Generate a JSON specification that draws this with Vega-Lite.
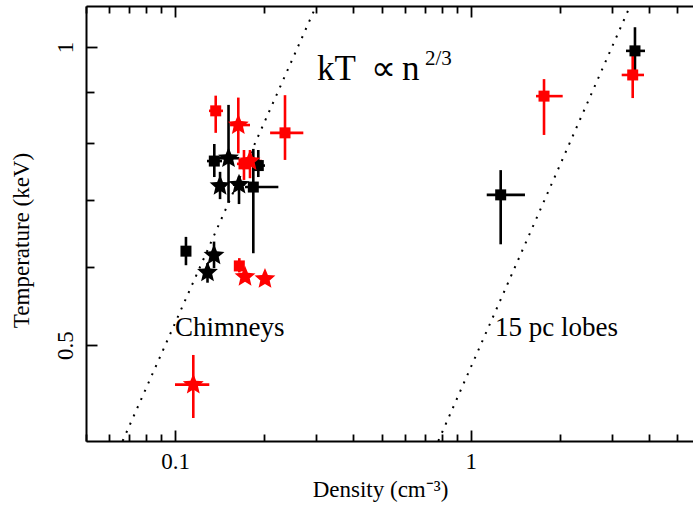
{
  "$schema": "https://vega.github.io/schema/vega-lite/v6.json",
  "width": 607,
  "height": 435,
  "autosize": {"type": "none"},
  "padding": {"left": 86, "top": 6, "right": 0, "bottom": 65},
  "config": {
    "view": {"stroke": null},
    "font": "Liberation Serif",
    "axis": {
      "domainColor": "black", "domainWidth": 2, "tickColor": "black", "tickWidth": 1.8,
      "labelColor": "black", "titleColor": "black", "labelFont": "Liberation Serif", "titleFont": "Liberation Serif",
      "labelFontSize": 23, "titleFontSize": 23, "titleFontWeight": "normal", "grid": false,
      "labelFlush": false, "labelOverlap": false
    }
  },
  "datasets": {
    "pts": [
      {"grp": "black", "shape": "square", "n": 0.1358, "nlo": 0.1283, "nhi": 0.1442, "T": 0.767, "Tlo": 0.739, "Thi": 0.798},
      {"grp": "black", "shape": "square", "n": 0.1913, "nlo": 0.182, "nhi": 0.2015, "T": 0.759, "Tlo": 0.739, "Thi": 0.787},
      {"grp": "black", "shape": "square", "n": 0.184, "nlo": 0.1725, "nhi": 0.2236, "T": 0.722, "Tlo": 0.619, "Thi": 0.789},
      {"grp": "black", "shape": "square", "n": 0.1089, "nlo": 0.106, "nhi": 0.112, "T": 0.622, "Tlo": 0.602, "Thi": 0.643},
      {"grp": "black", "shape": "square", "n": 1.263, "nlo": 1.133, "nhi": 1.526, "T": 0.709, "Tlo": 0.632, "Thi": 0.751},
      {"grp": "black", "shape": "square", "n": 3.594, "nlo": 3.351, "nhi": 3.885, "T": 0.991, "Tlo": 0.943, "Thi": 1.047},
      {"grp": "black", "shape": "star", "n": 0.1517, "nlo": 0.14, "nhi": 0.165, "T": 0.772, "Tlo": 0.696, "Thi": 0.874},
      {"grp": "black", "shape": "star", "n": 0.142, "nlo": 0.138, "nhi": 0.146, "T": 0.724, "Tlo": 0.702, "Thi": 0.748},
      {"grp": "black", "shape": "star", "n": 0.1646, "nlo": 0.157, "nhi": 0.172, "T": 0.726, "Tlo": 0.694, "Thi": 0.74},
      {"grp": "black", "shape": "star", "n": 0.1355, "nlo": 0.132, "nhi": 0.139, "T": 0.616, "Tlo": 0.598, "Thi": 0.636},
      {"grp": "black", "shape": "star", "n": 0.1288, "nlo": 0.125, "nhi": 0.132, "T": 0.592, "Tlo": 0.578, "Thi": 0.605},
      {"grp": "red", "shape": "square", "n": 0.1373, "nlo": 0.1303, "nhi": 0.1453, "T": 0.862, "Tlo": 0.819, "Thi": 0.893},
      {"grp": "red", "shape": "square", "n": 0.2355, "nlo": 0.2097, "nhi": 0.2716, "T": 0.819, "Tlo": 0.769, "Thi": 0.894},
      {"grp": "red", "shape": "square", "n": 0.1711, "nlo": 0.162, "nhi": 0.182, "T": 0.762, "Tlo": 0.734, "Thi": 0.787},
      {"grp": "red", "shape": "square", "n": 0.165, "nlo": 0.162, "nhi": 0.168, "T": 0.601, "Tlo": 0.592, "Thi": 0.612},
      {"grp": "red", "shape": "square", "n": 1.77, "nlo": 1.663, "nhi": 2.047, "T": 0.892, "Tlo": 0.815, "Thi": 0.928},
      {"grp": "red", "shape": "square", "n": 3.531, "nlo": 3.241, "nhi": 3.856, "T": 0.937, "Tlo": 0.888, "Thi": 0.993},
      {"grp": "red", "shape": "star", "n": 0.1637, "nlo": 0.1535, "nhi": 0.1793, "T": 0.834, "Tlo": 0.781, "Thi": 0.889},
      {"grp": "red", "shape": "star", "n": 0.1793, "nlo": 0.171, "nhi": 0.197, "T": 0.767, "Tlo": 0.737, "Thi": 0.787},
      {"grp": "red", "shape": "star", "n": 0.1725, "nlo": 0.17, "nhi": 0.175, "T": 0.586, "Tlo": 0.58, "Thi": 0.592},
      {"grp": "red", "shape": "star", "n": 0.2015, "nlo": 0.2, "nhi": 0.203, "T": 0.583, "Tlo": 0.58, "Thi": 0.587},
      {"grp": "red", "shape": "star", "n": 0.1153, "nlo": 0.1, "nhi": 0.1306, "T": 0.456, "Tlo": 0.422, "Thi": 0.4886}
    ],
    "lines": [
      {"line": "a", "n": 0.0665, "T": 0.4},
      {"line": "a", "n": 0.3, "T": 1.1},
      {"line": "b", "n": 0.777, "T": 0.4},
      {"line": "b", "n": 3.46, "T": 1.1}
    ]
  },
  "layer": [
    {
      "data": {"name": "lines"},
      "mark": {"type": "line", "color": "black", "strokeWidth": 2, "strokeDash": [2, 7]},
      "encoding": {
        "x": {"field": "n", "type": "quantitative", "scale": {"type": "log", "domain": [0.05, 5.647], "nice": false},
          "axis": {"orient": "bottom", "values": [0.05, 0.06, 0.07, 0.08, 0.09, 0.1, 0.2, 0.3, 0.4, 0.5, 0.6, 0.7, 0.8, 0.9, 1, 2, 3, 4, 5],
            "labelExpr": "datum.value == 1 ? '1' : (datum.value == 0.1 ? '0.1' : '')",
            "tickSize": {"condition": {"test": "datum.value == 0.1 || datum.value == 1", "value": -11}, "value": -7},
            "labelBaseline": "alphabetic", "labelAlign": "center", "labelPadding": 38,
            "title": "Density (cm⁻³)", "titleColor": "#000000", "titleX": 294, "titleY": 55, "titleBaseline": "alphabetic", "titleAlign": "center"}},
        "y": {"field": "T", "type": "quantitative", "scale": {"type": "log", "domain": [0.4, 1.1], "nice": false},
          "axis": {"orient": "left", "values": [0.5, 0.6, 0.7, 0.8, 0.9, 1],
            "labelExpr": "datum.value == 1 ? '1' : (datum.value == 0.5 ? '0.5' : '')",
            "tickSize": {"condition": {"test": "datum.value == 0.5 || datum.value == 1", "value": -11}, "value": -8},
            "labelAngle": 270, "labelAlign": "center", "labelBaseline": "alphabetic", "labelPadding": 25, "labelColor": "#000000",
            "title": "Temperature (keV)", "titleColor": "#000000", "titleAngle": 270, "titleX": -58, "titleY": 234, "titleBaseline": "alphabetic", "titleAlign": "center"}},
        "detail": {"field": "line"}
      }
    },
    {
      "data": {"name": "pts"},
      "mark": {"type": "rule", "strokeWidth": 2.6},
      "encoding": {
        "x": {"field": "nlo", "type": "quantitative", "scale": {"type": "log", "domain": [0.05, 5.647], "nice": false},
          "axis": {"orient": "top", "values": [0.05, 0.06, 0.07, 0.08, 0.09, 0.1, 0.2, 0.3, 0.4, 0.5, 0.6, 0.7, 0.8, 0.9, 1, 2, 3, 4, 5],
            "labels": false, "title": null,
            "tickSize": {"condition": {"test": "datum.value == 0.1 || datum.value == 1", "value": -11}, "value": -7}}},
        "x2": {"field": "nhi"},
        "y": {"field": "T", "type": "quantitative", "scale": {"type": "log", "domain": [0.4, 1.1], "nice": false}},
        "color": {"field": "grp", "type": "nominal", "scale": {"domain": ["black", "red"], "range": ["#000000", "#ff0000"]}, "legend": null}
      }
    },
    {
      "data": {"name": "pts"},
      "mark": {"type": "rule", "strokeWidth": 2.6},
      "encoding": {
        "x": {"field": "n", "type": "quantitative", "scale": {"type": "log", "domain": [0.05, 5.647], "nice": false}, "axis": null},
        "y": {"field": "Tlo", "type": "quantitative", "scale": {"type": "log", "domain": [0.4, 1.1], "nice": false}},
        "y2": {"field": "Thi"},
        "color": {"field": "grp", "type": "nominal", "scale": {"domain": ["black", "red"], "range": ["#000000", "#ff0000"]}, "legend": null}
      }
    },
    {
      "data": {"name": "pts"},
      "mark": {"type": "point", "filled": true, "opacity": 1},
      "encoding": {
        "x": {"field": "n", "type": "quantitative", "scale": {"type": "log", "domain": [0.05, 5.647], "nice": false}, "axis": null},
        "y": {"field": "T", "type": "quantitative", "scale": {"type": "log", "domain": [0.4, 1.1], "nice": false}},
        "shape": {"field": "shape", "type": "nominal", "scale": {"domain": ["square", "star"], "range": ["square", "M0,-1L0.265,-0.364L0.951,-0.309L0.428,0.139L0.588,0.809L0,0.45L-0.588,0.809L-0.428,0.139L-0.951,-0.309L-0.265,-0.364Z"]}, "legend": null},
        "size": {"field": "shape", "type": "nominal", "scale": {"domain": ["square", "star"], "range": [121, 480]}, "legend": null},
        "color": {"field": "grp", "type": "nominal", "scale": {"domain": ["black", "red"], "range": ["#000000", "#ff0000"]}, "legend": null}
      }
    },
    {
      "data": {"values": [{"label": "kT", "n": 0.302, "T": 0.926}, {"label": "∝", "n": 0.46, "T": 0.926}, {"label": "n", "n": 0.5856, "T": 0.926}]},
      "mark": {"type": "text", "font": "Liberation Serif", "fontSize": 35, "align": "left", "baseline": "alphabetic", "color": "black"},
      "encoding": {
        "x": {"field": "n", "type": "quantitative", "scale": {"type": "log", "domain": [0.05, 5.647], "nice": false}, "axis": null},
        "y": {"field": "T", "type": "quantitative", "scale": {"type": "log", "domain": [0.4, 1.1], "nice": false}},
        "text": {"field": "label"}
      }
    },
    {
      "data": {"values": [{"label": "2/3", "n": 0.7, "T": 0.959}]},
      "mark": {"type": "text", "font": "Liberation Serif", "fontSize": 21, "align": "left", "baseline": "alphabetic", "color": "black"},
      "encoding": {
        "x": {"field": "n", "type": "quantitative", "scale": {"type": "log", "domain": [0.05, 5.647], "nice": false}, "axis": null},
        "y": {"field": "T", "type": "quantitative", "scale": {"type": "log", "domain": [0.4, 1.1], "nice": false}},
        "text": {"field": "label"}
      }
    },
    {
      "data": {"values": [{"label": "Chimneys", "n": 0.1, "T": 0.5106}, {"label": "15 pc lobes", "n": 1.208, "T": 0.5106}]},
      "mark": {"type": "text", "font": "Liberation Serif", "fontSize": 27, "align": "left", "baseline": "alphabetic", "color": "black"},
      "encoding": {
        "x": {"field": "n", "type": "quantitative", "scale": {"type": "log", "domain": [0.05, 5.647], "nice": false}, "axis": null},
        "y": {"field": "T", "type": "quantitative", "scale": {"type": "log", "domain": [0.4, 1.1], "nice": false}},
        "text": {"field": "label"}
      }
    }
  ],
  "resolve": {"axis": {"x": "independent"}}
}
